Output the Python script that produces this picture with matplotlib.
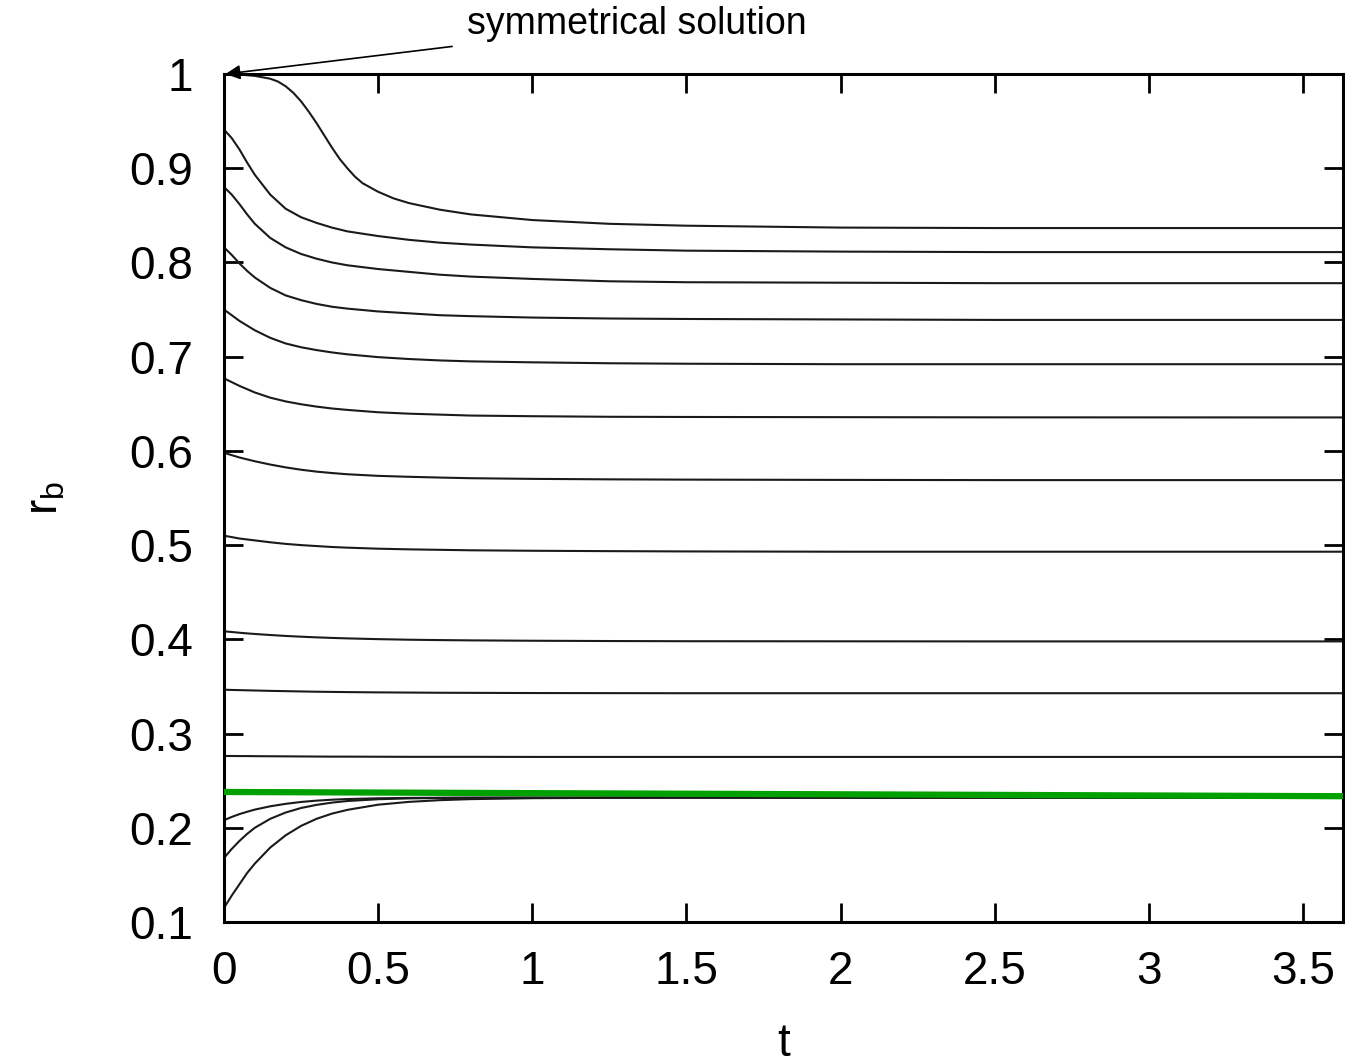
import matplotlib
matplotlib.use("Agg")
import matplotlib.pyplot as plt
from matplotlib.ticker import FixedLocator, FixedFormatter

plt.rcParams['font.family'] = ['Liberation Sans', 'DejaVu Sans']

# sampling times for the top ("symmetrical") curve
t_top = [0, 0.05, 0.1, 0.15, 0.175, 0.2, 0.225, 0.25, 0.275, 0.3, 0.325, 0.35, 0.375,
         0.4, 0.425, 0.45, 0.5, 0.55, 0.6, 0.7, 0.8, 0.9, 1.0, 1.25, 1.5, 2.0, 2.5, 3.63]
r01 = [1.000, 0.9995, 0.998, 0.995, 0.992, 0.987, 0.980, 0.971, 0.960, 0.948, 0.935, 0.922, 0.910,
       0.900, 0.891, 0.884, 0.875, 0.868, 0.863, 0.856, 0.851, 0.848, 0.845, 0.841, 0.839, 0.837, 0.8365, 0.8365]

# common sampling times for the other curves
t = [0, 0.025, 0.05, 0.075, 0.1, 0.15, 0.2, 0.25, 0.3, 0.35, 0.4, 0.5, 0.6, 0.7, 0.8,
     1.0, 1.25, 1.5, 2.0, 2.5, 3.63]

r02 = [0.941, 0.932, 0.920, 0.906, 0.893, 0.872, 0.857, 0.848, 0.842, 0.837, 0.833, 0.828, 0.824, 0.821, 0.819,
       0.816, 0.814, 0.8125, 0.8115, 0.811, 0.811]
r03 = [0.880, 0.872, 0.862, 0.851, 0.841, 0.826, 0.816, 0.809, 0.804, 0.800, 0.797, 0.793, 0.790, 0.787, 0.785,
       0.7825, 0.780, 0.779, 0.7785, 0.778, 0.778]
r04 = [0.816, 0.808, 0.799, 0.791, 0.784, 0.773, 0.765, 0.760, 0.756, 0.753, 0.751, 0.748, 0.746, 0.744, 0.743,
       0.7415, 0.7405, 0.740, 0.7395, 0.739, 0.739]
r05 = [0.750, 0.744, 0.738, 0.733, 0.728, 0.720, 0.714, 0.710, 0.707, 0.7045, 0.7025, 0.6995, 0.6975, 0.696, 0.695,
       0.694, 0.693, 0.6925, 0.692, 0.692, 0.692]
r06 = [0.677, 0.673, 0.669, 0.6655, 0.662, 0.6565, 0.6525, 0.6495, 0.647, 0.645, 0.6435, 0.641, 0.6395, 0.6385, 0.6375,
       0.6368, 0.6362, 0.636, 0.6358, 0.6356, 0.6355]
r07 = [0.598, 0.5955, 0.593, 0.591, 0.589, 0.5855, 0.5825, 0.580, 0.578, 0.5765, 0.5752, 0.5735, 0.5725, 0.5717, 0.571,
       0.5703, 0.5698, 0.5695, 0.5692, 0.569, 0.569]
r08 = [0.510, 0.5085, 0.507, 0.506, 0.505, 0.503, 0.5013, 0.500, 0.499, 0.498, 0.4973, 0.4962, 0.4955, 0.495, 0.4945,
       0.494, 0.4936, 0.4933, 0.493, 0.493, 0.493]
r09 = [0.4085, 0.4078, 0.4070, 0.4063, 0.4057, 0.4046, 0.4036, 0.4028, 0.4021, 0.4015, 0.4010, 0.4002, 0.3996, 0.3992,
       0.3989, 0.3985, 0.3982, 0.3980, 0.3979, 0.3978, 0.3978]
r10 = [0.3465, 0.3463, 0.3461, 0.3459, 0.3457, 0.3453, 0.3450, 0.3447, 0.3444, 0.3442, 0.3440, 0.3437, 0.3435, 0.3433,
       0.3432, 0.3430, 0.3429, 0.3428, 0.3428, 0.3428, 0.3428]
r11 = [0.2762, 0.2762, 0.2761, 0.2761, 0.2760, 0.2759, 0.2758, 0.2757, 0.2756, 0.2755, 0.2755, 0.2754, 0.2753, 0.2753,
       0.2753, 0.2752, 0.2752, 0.2752, 0.2752, 0.2752, 0.2752]
r12 = [0.208, 0.2115, 0.2145, 0.217, 0.2193, 0.2228, 0.2254, 0.2274, 0.2288, 0.2298, 0.2305, 0.2313, 0.2317, 0.2319,
       0.232, 0.232, 0.232, 0.232, 0.232, 0.232, 0.232]
r13 = [0.168, 0.1775, 0.186, 0.1935, 0.200, 0.2095, 0.2162, 0.221, 0.2243, 0.2267, 0.2284, 0.2303, 0.2312, 0.2316,
       0.2318, 0.232, 0.232, 0.232, 0.232, 0.232, 0.232]
r14 = [0.115, 0.128, 0.140, 0.152, 0.162, 0.179, 0.192, 0.202, 0.2095, 0.215, 0.219, 0.2245, 0.2275, 0.2293,
       0.2304, 0.2314, 0.2318, 0.232, 0.232, 0.232, 0.232]

other_curves = [r02, r03, r04, r05, r06, r07, r08, r09, r10, r11, r12, r13, r14]

t_green = [0, 3.63]
r_green = [0.238, 0.2335]

xticks = [0, 0.5, 1, 1.5, 2, 2.5, 3, 3.5]
xticklabels = ["0", "0.5", "1", "1.5", "2", "2.5", "3", "3.5"]
yticks = [0.1, 0.2, 0.3, 0.4, 0.5, 0.6, 0.7, 0.8, 0.9, 1.0]
yticklabels = ["0.1", "0.2", "0.3", "0.4", "0.5", "0.6", "0.7", "0.8", "0.9", "1"]

fig = plt.figure(figsize=(13.45, 10.64), dpi=100)
ax = fig.add_axes([224/1345, 1 - 922/1064, (1343-224)/1345, (922-74)/1064])

line_kw = dict(color="#1a1a1a", lw=1.5, solid_joinstyle="round")
ax.plot(t_top, r01, **line_kw)
for r in other_curves:
    ax.plot(t, r, **line_kw)
ax.plot(t_green, r_green, color="#00a000", lw=4.5, zorder=5)

ax.set_xlim(0, 3.63)
ax.set_ylim(0.1, 1.0)
ax.xaxis.set_major_locator(FixedLocator(xticks))
ax.xaxis.set_major_formatter(FixedFormatter(xticklabels))
ax.yaxis.set_major_locator(FixedLocator(yticks))
ax.yaxis.set_major_formatter(FixedFormatter(yticklabels))

ax.tick_params(direction="in", length=14, width=2, top=True, right=True,
               labelsize=33, pad=20)
ax.tick_params(axis="y", pad=22)
for s in ax.spines.values():
    s.set_linewidth(2.2)

ax.set_xlabel("t", fontsize=33, labelpad=20)
ax.set_ylabel(r"r$_\mathregular{b}$", fontsize=33, labelpad=45)

ax.annotate("symmetrical solution", xy=(0.005, 1.0), xycoords="data",
            xytext=(467/1345, 1 - 24/1064), textcoords="figure fraction",
            fontsize=27, va="center", ha="left",
            arrowprops=dict(arrowstyle="-|>", color="black", lw=1.2,
                            mutation_scale=22, shrinkA=10, shrinkB=0),
            annotation_clip=False)

fig.savefig("out.png", dpi=100)
